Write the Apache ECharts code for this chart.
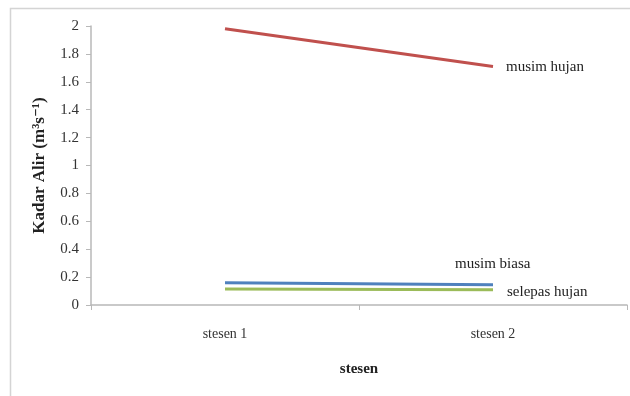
<!DOCTYPE html>
<html>
<head>
<meta charset="utf-8">
<script src="https://cdn.jsdelivr.net/npm/echarts@6/dist/echarts.min.js"></script>
<style>
  html, body { margin: 0; padding: 0; background: #fff; }
  #chart { width: 630px; height: 396px; }
</style>
</head>
<body>
<div id="chart"></div>
<script>
// Stations along the x axis
const categories = ['stesen 1', 'stesen 2'];
// Flow rate (m3/s) per station, one array per condition
const musimHujan = [1.98, 1.71];
const musimBiasa = [0.16, 0.145];
const selepasHujan = [0.115, 0.11];
const yTicks = [0, 0.2, 0.4, 0.6, 0.8, 1, 1.2, 1.4, 1.6, 1.8, 2];

const serif = '"Liberation Serif", "DejaVu Serif", serif';

const chart = echarts.init(document.getElementById('chart'));

function lineSeries(name, values, color, offset) {
  return {
    name: name,
    type: 'line',
    data: values,
    symbol: 'none',
    lineStyle: { color: color, width: 3 },
    itemStyle: { color: color },
    endLabel: {
      show: true,
      formatter: name,
      fontFamily: serif,
      fontSize: 15,
      color: '#222',
      offset: offset
    },
    emphasis: { disabled: true },
    animation: false
  };
}

chart.setOption({
  backgroundColor: '#fff',
  animation: false,
  graphic: [{
    type: 'rect',
    shape: { x: 10.5, y: 8.5, width: 640, height: 400 },
    style: { fill: 'none', stroke: '#d4d4d4', lineWidth: 1.5 },
    silent: true
  }],
  grid: { left: 91, right: 3, top: 26, bottom: 91 },
  xAxis: {
    type: 'category',
    data: categories,
    boundaryGap: true,
    name: 'stesen',
    nameLocation: 'middle',
    nameGap: 57,
    nameTextStyle: { fontFamily: serif, fontWeight: 'bold', fontSize: 15, color: '#222' },
    axisLine: { lineStyle: { color: '#b8b8b8', width: 1.5 } },
    axisTick: { show: true, alignWithLabel: false, length: 5, lineStyle: { color: '#b8b8b8' } },
    axisLabel: { fontFamily: serif, fontSize: 14, color: '#333', margin: 22 }
  },
  yAxis: {
    type: 'value',
    min: yTicks[0],
    max: yTicks[yTicks.length - 1],
    interval: 0.2,
    name: 'Kadar Alir (m³s⁻¹)',
    nameLocation: 'middle',
    nameGap: 43,
    nameRotate: 90,
    nameTextStyle: { fontFamily: serif, fontWeight: 'bold', fontSize: 17, color: '#222' },
    axisLine: { show: true, lineStyle: { color: '#b8b8b8', width: 1.5 } },
    axisTick: { show: true, length: 5, lineStyle: { color: '#b8b8b8' } },
    splitLine: { show: false },
    axisLabel: {
      fontFamily: serif, fontSize: 15, color: '#333', margin: 12,
      formatter: v => String(Math.round(v * 10) / 10)
    }
  },
  series: [
    lineSeries('musim hujan', musimHujan, '#c0504d', [5, 1]),
    lineSeries('musim biasa', musimBiasa, '#4f81bd', [-46, -21]),
    lineSeries('selepas hujan', selepasHujan, '#9bbb59', [6, 2])
  ]
});
</script>
</body>
</html>
